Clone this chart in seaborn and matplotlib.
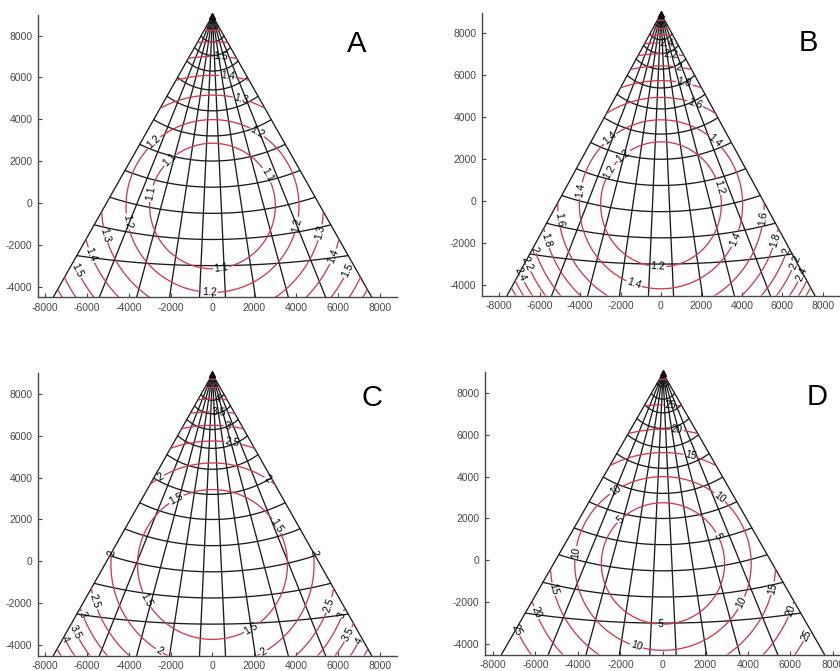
import numpy as np
import pandas as pd
import matplotlib
matplotlib.use("Agg")
import matplotlib.pyplot as plt
from matplotlib.patches import Polygon
import seaborn as sns

sns.set_style("ticks")
plt.rcParams["font.family"] = ["Liberation Sans", "DejaVu Sans"]
plt.rcParams["axes.unicode_minus"] = False

# triangle: apex station on top, base on the floor of the axes
APEX_Y = 8950
BASE_Y = -4500
BASE_HALF = 7600
CENTRE_Y = -150          # centre of the contour rings

# fan lines: x where each one meets the base
fan_base_x = [-7600, -5400, -3620, -2050, -620, 620, 2050, 3620, 5400, 7600]

# cross arcs: y on the centre line, y where they meet the sides
arc_mid_y = [8300, 7700, 7050, 6300, 5400, 4400, 3200, 2000, 750, -500, -1750, -3000]
arc_edge_y = [8450, 7980, 7430, 6780, 6000, 5100, 3980, 2800, 1550, 270, -1050, -2520]

# contour levels and ring radius
levels_a = [1.1, 1.2, 1.3, 1.4, 1.5, 1.6, 1.7]
radii_a = [3000, 4130, 5300, 6250, 7150, 7850, 8400]

levels_b = [1.2, 1.4, 1.6, 1.8, 2.0, 2.2, 2.4, 2.6, 2.8, 3.0]
radii_b = [2980, 4030, 5100, 5900, 6600, 7180, 7700, 8070, 8390, 8780]

levels_c = [1.5, 2.0, 2.5, 3.0, 3.5, 4.0, 4.5, 5.0]
radii_c = [3580, 4850, 5900, 6650, 7300, 7900, 8450, 8850]

levels_d = [5, 10, 15, 20, 25, 30]
radii_d = [2900, 4150, 5300, 6420, 7580, 8800]

# where the contour labels sit (layout)
labels_a = [(396, 6963), (716, 6090), (1350, 4970), (2230, 3540), (-2870, 2980),
            (-1990, 2020), (-2870, 430), (2550, 1310), (-4220, -925), (4140, -1080),
            (-5250, -1560), (5090, -1400), (-6050, -2600), (5890, -2600),
            (-6450, -3230), (6450, -3230), (400, -2990), (-160, -4350)]
labels_b = [(300, 7440), (460, 6890), (880, 6250), (1120, 5460), (1620, 4500),
            (-2600, 3070), (2610, 2830), (-1950, 2280), (-2530, 1400), (-4100, 530),
            (-5180, -900), (-5670, -1860), (-6330, -2330), (-6580, -2970),
            (-6990, -3530), (2840, 680), (5150, -820), (3750, -1860), (5650, -1860),
            (6230, -2410), (6560, -2890), (7050, -3530), (-130, -2890), (-1290, -3845)]
labels_c = [(240, 7730), (320, 7170), (720, 6530), (955, 5650), (-2550, 4140),
            (2630, 3900), (-1750, 3020), (3030, 1670), (-4780, 390), (4700, 390),
            (-3100, -1840), (1830, -3170), (-5650, -1920), (5570, -2080),
            (-6210, -2560), (6210, -2560), (-6530, -3360), (6370, -3440),
            (-7000, -3680), (6930, -3760), (-2470, -4150), (2390, -4230)]
labels_d = [(350, 7520), (660, 6330), (1290, 5050), (-2255, 3380), (2630, 2980),
            (-1940, 1860), (2400, 1070), (-3990, 350), (-5250, -1400), (5080, -1320),
            (-6040, -2520), (5950, -2360), (-6750, -3240), (6730, -3550),
            (3580, -1960), (-126, -2870), (-1230, -4030)]

# panel boxes in pixels: left, right, bottom, top, x limits
W, H = 840, 671
panels = [
    ("A", levels_a, radii_a, labels_a, (38, 397, 297, 14.6), (-8334, 8812), (357, 44)),
    ("B", levels_b, radii_b, labels_b, (482, 840, 295.5, 12.5), (-8840, 8840), (808, 43)),
    ("C", levels_c, radii_c, labels_c, (38, 397, 655.5, 373), (-8334, 8812), (372, 398)),
    ("D", levels_d, radii_d, labels_d, (485, 840, 654.5, 372), (-8376, 8330), (817, 397)),
]

RED = "#d03a52"
INK = "#1c1c1c"


def side_x(y):
    return BASE_HALF * (APEX_Y - y) / (APEX_Y - BASE_Y)


# grid lines in long form so seaborn can draw them
rows = []
for i, bx in enumerate(fan_base_x):
    rows.append(("fan%d" % i, 0.0, APEX_Y, 0))
    rows.append(("fan%d" % i, bx, BASE_Y, 1))
for i, (ym, ye) in enumerate(zip(arc_mid_y, arc_edge_y)):
    xe = side_x(ye)
    c = (xe ** 2 + ye ** 2 - ym ** 2) / (2 * (ye - ym))
    r = c - ym
    phi = np.arcsin(xe / r)
    for k, t in enumerate(np.linspace(-phi, phi, 80)):
        rows.append(("arc%d" % i, r * np.sin(t), c - r * np.cos(t), k))
grid = pd.DataFrame(rows, columns=["line", "x", "y", "order"])

fig = plt.figure(figsize=(W / 100, H / 100), dpi=100)

for name, levels, radii, label_pos, (l, r, b, t), xlim, letter_xy in panels:
    ax = fig.add_axes([l / W, (H - b) / H, (r - l) / W, (b - t) / H])
    ax.set_xlim(*xlim)
    ax.set_ylim(BASE_Y, 9000)

    sns.lineplot(data=grid, x="x", y="y", units="line", estimator=None, sort=False,
                 color=INK, lw=0.95, ax=ax, legend=False)

    xs = np.linspace(xlim[0], xlim[1], 700)
    ys = np.linspace(BASE_Y - 200, 9200, 620)
    X, Y = np.meshgrid(xs, ys)
    R = np.hypot(X, Y - CENTRE_Y)
    cs = ax.contour(X, Y, R, levels=radii, colors=RED, linewidths=0.95)
    fmt = {rad: ("%g" % lev) for rad, lev in zip(cs.levels, levels)}
    cs.clabel(cs.levels, manual=label_pos, inline=True, inline_spacing=1,
              fmt=fmt, fontsize=7.5, colors="k")
    tri = Polygon([(0, APEX_Y), (-BASE_HALF, BASE_Y), (BASE_HALF, BASE_Y)],
                  closed=True, transform=ax.transData)
    cs.set_clip_path(tri)

    ax.plot([0], [APEX_Y], marker="^", ms=5, color="k", mfc="#3a0a10", clip_on=False)

    ax.set_xticks(np.arange(-8000, 8001, 2000))
    ax.set_yticks(np.arange(-4000, 8001, 2000))
    ax.set_xlabel("")
    ax.set_ylabel("")
    ax.tick_params(direction="in", length=3, width=0.8, colors="#484848",
                   labelsize=7.5, pad=4)
    for side in ("top", "right"):
        ax.spines[side].set_visible(False)
    for side in ("left", "bottom"):
        ax.spines[side].set_color("#484848")
        ax.spines[side].set_linewidth(1.0)

    fig.text(letter_xy[0] / W, 1 - letter_xy[1] / H, name, fontsize=21,
             ha="center", va="center", color="k")

fig.savefig("out.png", dpi=100)
